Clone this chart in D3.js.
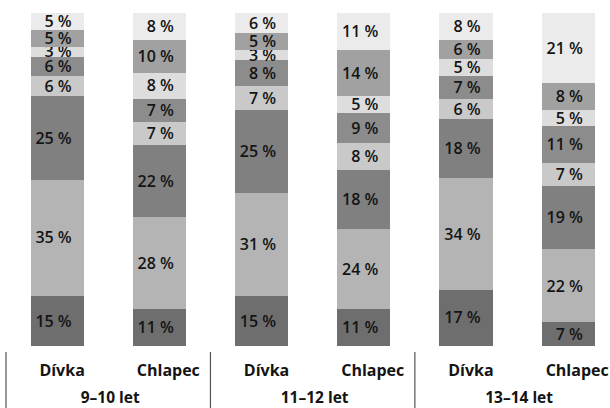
<!DOCTYPE html>
<html>
<head>
<meta charset="utf-8">
<script src="https://cdn.jsdelivr.net/npm/d3@7"></script>
<style>
  html, body { margin: 0; padding: 0; background: #fff; }
  svg { display: block; }
  text { font-family: "Open Sans", "Noto Sans", sans-serif; fill: #141414; }
</style>
</head>
<body>
<div id="chart"></div>
<script>
// ---- data ----
const ageGroups = ["9–10 let", "11–12 let", "13–14 let"];
const genders = ["Dívka", "Chlapec"];
// segments from bottom (seg1) to top (seg8); one value per bar:
// [9–10 Dívka, 9–10 Chlapec, 11–12 Dívka, 11–12 Chlapec, 13–14 Dívka, 13–14 Chlapec]
const seg1 = [15, 11, 15, 11, 17, 7];
const seg2 = [35, 28, 31, 24, 34, 22];
const seg3 = [25, 22, 25, 18, 18, 19];
const seg4 = [6, 7, 7, 8, 6, 7];
const seg5 = [6, 7, 8, 9, 7, 11];
const seg6 = [3, 8, 3, 5, 5, 5];
const seg7 = [5, 10, 5, 14, 6, 8];
const seg8 = [5, 8, 6, 11, 8, 21];

const segments = [seg1, seg2, seg3, seg4, seg5, seg6, seg7, seg8];
const segKeys = segments.map((_, i) => "s" + (i + 1));
const segColors = ["#6e6e6e", "#b4b4b4", "#808080", "#c9c9c9", "#8c8c8c", "#dddddd", "#a1a1a1", "#ebebeb"];

const rows = [];
ageGroups.forEach((g, gi) => {
  genders.forEach((s, si) => {
    const idx = gi * genders.length + si;
    const row = { group: g, gender: s };
    segKeys.forEach((k, ki) => row[k] = segments[ki][idx]);
    rows.push(row);
  });
});

const W = 610, H = 408;
const svg = d3.select("#chart").append("svg").attr("width", W).attr("height", H);

const x0 = d3.scaleBand().domain(ageGroups).range([6, 619.3]).padding(0);
const x1 = d3.scaleBand().domain(genders).range([0, x0.bandwidth()])
  .paddingInner(0.48).paddingOuter(0.24);
const y = d3.scaleLinear().domain([0, 1]).range([345.7, 13.3]);

const stack = d3.stack().keys(segKeys).offset(d3.stackOffsetExpand);
const series = stack(rows);

const barX = d => x0(d.data.group) + x1(d.data.gender);

const layers = svg.append("g").selectAll("g.layer").data(series).join("g")
  .attr("class", "layer")
  .attr("fill", (d, i) => segColors[i]);

layers.selectAll("rect").data(d => d).join("rect")
  .attr("x", barX)
  .attr("y", d => y(d[1]))
  .attr("width", x1.bandwidth())
  .attr("height", d => y(d[0]) - y(d[1]))
  .attr("shape-rendering", "crispEdges");

layers.selectAll("text").data((d, i) => d.map(v => ({ v, key: d.key }))).join("text")
  .attr("x", d => barX(d.v) + x1.bandwidth() - 12)
  .attr("y", d => (y(d.v[0]) + y(d.v[1])) / 2)
  .attr("text-anchor", "end")
  .attr("dy", "0.36em")
  .attr("font-size", 16)
  .attr("font-weight", 600)
  .text(d => d.v.data[d.key] + " %");

// category axis
const axis = svg.append("g");
ageGroups.forEach(g => {
  axis.append("line")
    .attr("x1", x0(g)).attr("x2", x0(g))
    .attr("y1", 352).attr("y2", 408)
    .attr("stroke", "#555").attr("stroke-width", 1.2);
  genders.forEach((s, si) => {
    axis.append("text")
      .attr("x", x0(g) + x1(s) + x1.bandwidth() / 2 + (si === 0 ? 5 : 9))
      .attr("y", 376)
      .attr("text-anchor", "middle")
      .attr("font-size", 16)
      .attr("font-weight", 700)
      .text(s);
  });
  axis.append("text")
    .attr("x", x0(g) + x0.bandwidth() / 2 + 2)
    .attr("y", 402.5)
    .attr("text-anchor", "middle")
    .attr("font-size", 15.5)
    .attr("font-weight", 700)
    .text(g);
});
</script>
</body>
</html>
